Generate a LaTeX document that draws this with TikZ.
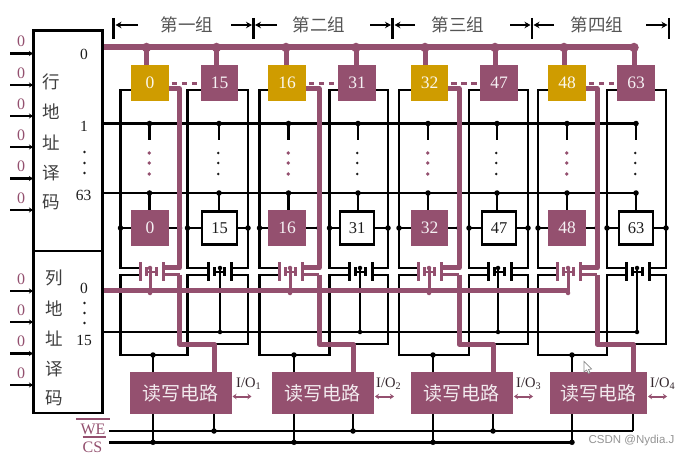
\documentclass[tikz,border=0pt]{standalone}
\usepackage{fontspec}
\setmainfont{Liberation Serif}
\newfontfamily\cjk{Noto Sans CJK SC}
\newfontfamily\wm{Liberation Sans}
\usetikzlibrary{arrows.meta,backgrounds}
\definecolor{mag}{HTML}{94506F}
\definecolor{gold}{HTML}{CF9C00}
\definecolor{ink}{HTML}{1C1C1C}
\pgfdeclarelayer{wires}
\pgfdeclarelayer{magwires}
\pgfsetlayers{wires,magwires,main}
\tikzset{
  wire/.style={draw=black,line width=2.4pt,line join=miter},
  mwire/.style={draw=mag,line width=5pt,line join=round},
  mwirethin/.style={draw=mag,line width=3pt,line join=round},
  jdot/.style={circle,fill=black,inner sep=0,minimum size=5.5pt},
  mdot/.style={circle,fill=mag,inner sep=0,minimum size=9.5pt},
  smdot/.style={circle,fill=mag,inner sep=0,minimum size=4.5pt},
  cellbase/.style={rectangle,inner sep=0,minimum width=37.5pt,minimum height=36pt,font=\fontsize{17.5}{17.5}\selectfont},
  cellmag/.style={cellbase,fill=mag,text=white!92!mag},
  cellgold/.style={cellbase,fill=gold,text=white!92!gold},
  cellwhite/.style={cellbase,draw=black,fill=white,line width=2.4pt,minimum width=34.5pt,minimum height=33pt,text=ink,font=\fontsize{16.5}{16.5}\selectfont},
  plateb/.style={rectangle,fill=black,inner sep=0,minimum width=3pt,minimum height=19pt},
  platem/.style={rectangle,fill=mag,inner sep=0,minimum width=3pt,minimum height=19pt},
  rw/.style={rectangle,fill=mag,inner sep=0,minimum height=42.5pt,text=white!88!mag,font=\cjk\fontsize{19}{19}\selectfont},
  dec/.style={rectangle,draw=black,line width=2.6pt,inner sep=0},
  decl/.style={inner sep=0,text=ink!85,font=\cjk\fontsize{17.5}{17.5}\selectfont},
  num/.style={inner sep=0,text=ink,font=\fontsize{15.5}{15.5}\selectfont},
  zero/.style={inner sep=0,text=mag,font=\fontsize{16}{16}\selectfont},
  grp/.style={inner sep=0,text=ink!75,font=\cjk\fontsize{17.5}{17.5}\selectfont},
  iot/.style={inner sep=0,text=ink!80!mag,font=\fontsize{14.5}{14.5}\selectfont},
  inarrow/.style={draw=black,line width=2.2pt,-{Stealth[length=4pt,width=5pt]}},
  brk/.style={draw=black,line width=2.2pt,-{Stealth[length=6pt,width=6.5pt]}},
  barline/.style={draw=black,line width=2.8pt},
  ioarrow/.style={draw=mag,line width=2pt,{Stealth[length=4pt,width=5.5pt]}-{Stealth[length=4pt,width=5.5pt]}},
  dots/.style={draw=mag,line width=2.4pt,dash pattern=on 5.5pt off 4.5pt}
}
\begin{document}
\begin{tikzpicture}[x=1pt,y=-1pt]
\useasboundingbox (0,0) rectangle (691,457);
\begin{pgfonlayer}{wires}
\fill[white] (0,0) rectangle (691,457);
\end{pgfonlayer}

% decoders
\node[dec,minimum width=69pt,minimum height=220.5pt] (rowdec) at (68,140.7) {};
\node[dec,minimum width=69pt,minimum height=162pt] (coldec) at (68,332) {};
\foreach \t/\y in {行/82,地/112,址/143,译/173,码/202}{
  \node[decl] (rd\y) at (51,\y) {\t};
}
\foreach \t/\y in {列/278,地/309,址/339,译/369,码/398}{
  \node[decl] (cd\y) at (54.5,\y) {\t};
}
\node[num] (r0) at (84,54) {0};
\node[num] (r1) at (84,126) {1};
\node[num] (r63) at (83.5,195) {63};
\node[num] (c0) at (84,288) {0};
\node[num] (c15) at (84,340) {15};
\foreach \y in {152,163,173}{\fill[ink] (84.5,\y) circle (1.4pt);}
\foreach \y in {303,313,323}{\fill[ink] (84.5,\y) circle (1.4pt);}

% address inputs
\foreach \y [count=\n] in {53.5,85,116,147,178.5,210,291,322,353.5,385}{
  \coordinate (inS\n) at (10,\y);
  \coordinate (inE\n) at (33,\y);
  \draw[inarrow] (inS\n) -- (inE\n);
  \node[zero] (z\n) at (21,\y-12) {0};
}

% group brackets
\foreach \x/\i in {113.5/a,253.5/b,392.7/c,532/d,669/e}{
  \coordinate (brT\i) at (\x,18);
  \coordinate (brB\i) at (\x,39.5);
  \draw[barline] (brT\i) -- (brB\i);
}
\foreach \s/\e [count=\n] in {138/115.5,231/252,277/255,370/391,415/394.5,510/530.5,554/533.5,646/667.5}{
  \coordinate (arS\n) at (\s,25);
  \coordinate (arE\n) at (\e,25);
  \draw[brk] (arS\n) -- (arE\n);
}
\node[grp] (g1) at (187,25) {第一组};
\node[grp] (g2) at (319,25) {第二组};
\node[grp] (g3) at (458,25) {第三组};
\node[grp] (g4) at (597,25) {第四组};

% global lines
\coordinate (rowA) at (102.5,123.5);
\coordinate (rowAe) at (636,123.5);
\coordinate (rowB) at (102.5,193);
\coordinate (rowBe) at (636,193);
\coordinate (colK) at (102.5,332);
\coordinate (colKe) at (637,332);
\coordinate (busT) at (102.5,47.5);
\coordinate (busTe) at (634,47.5);
\coordinate (busC) at (102.5,290.5);
\coordinate (busCe) at (569,290.5);
\coordinate (we) at (109,431);
\coordinate (wee) at (633,431);
\coordinate (cs) at (109,442.3);
\coordinate (cse) at (572,442.3);
\begin{pgfonlayer}{wires}
  \draw[wire] (rowA) -- (rowAe);
  \draw[wire] (rowB) -- (rowBe);
  \draw[wire] (colK) -- (colKe);
  \draw[wire] (we) -- (wee);
  \draw[wire] (cs) -- (cse);
\end{pgfonlayer}
\begin{pgfonlayer}{magwires}
  \draw[mag,line width=6pt] (busT) -- (busTe);
  \draw[mag,line width=5pt] (busC) -- (busCe);
\end{pgfonlayer}

\foreach \g/\a/\b/\ax/\bx/\sa/\sb/\ma/\mb/\La/\M/\Lb/\Rb/\pa/\qa/\pb/\qb/\ga/\gb/\jd/\wx/\bl/\br/\ix in {
  1/0/15/150/219.5/146.5/216.5/149.5/219/120.5/179.5/187.5/248/140/163/208/231/150/220/153/214/129.5/231.5/236,
  2/16/31/287/357/286/356/288.5/358/259.5/319/329.5/388/279/302/349/372/290/360/294/353/271.5/374/376,
  3/32/47/429.5/499/425/495/428/497/399/459/469/528/418/441/488/511/429/498/433/493/410.7/513/516,
  4/48/63/567/636/564/634/567/636/538/597/607/666/557/580/626/649/568/637/572/633/550/647/650}{
  % cells
  \node[cellgold] (tA\g) at (\ax,82.7) {\a};
  \node[cellmag]  (tB\g) at (\bx,82.7) {\b};
  \node[cellmag]  (lA\g) at (\ax,228) {\a};
  \node[cellwhite] (lB\g) at (\bx,228) {\b};
  % transistors
  \node[platem] (pA\g) at (\pa,272) {};
  \node[platem] (qA\g) at (\qa,272) {};
  \node[plateb] (pB\g) at (\pb,272) {};
  \node[plateb] (qB\g) at (\qb,272) {};
  % read/write
  \pgfmathsetmacro{\bw}{\br-\bl}
  \pgfmathsetmacro{\bc}{(\br+\bl)/2}
  \node[rw,minimum width=\bw pt] (rw\g) at (\bc,393.2) {读写电路};
  \node[iot,anchor=west] (io\g) at (\ix,384) {I/O\textsubscript{\g}};
  \pgfmathsetmacro{\ias}{\br+1}
  \pgfmathsetmacro{\iae}{\br+20}
  \coordinate (ioS\g) at (\ias,396.5);
  \coordinate (ioE\g) at (\iae,396.5);
  \draw[ioarrow] (ioS\g) -- (ioE\g);
  % named junctions
  \coordinate (jTa\g) at (\sa,47.5);
  \coordinate (jTb\g) at (\sb,47.5);
  \coordinate (cTa\g) at (\sa,65);
  \coordinate (cTb\g) at (\sb,65);
  \coordinate (n1a\g) at (\ma,123.5);
  \coordinate (n1b\g) at (\mb,123.5);
  \coordinate (s1a\g) at (\ma,140);
  \coordinate (s1b\g) at (\mb,140);
  \coordinate (n2a\g) at (\ma,193);
  \coordinate (n2b\g) at (\mb,193);
  \coordinate (s2a\g) at (\ma,210);
  \coordinate (s2b\g) at (\mb,212);
  \coordinate (LaT\g) at (\La,90);
  \coordinate (LbT\g) at (\Lb,90);
  \coordinate (RbT\g) at (\Rb,90);
  \coordinate (MT\g) at (\M,88.5);
  \coordinate (pAu\g) at (\pa,268);
  \coordinate (pAd\g) at (\pa,275);
  \coordinate (qAu\g) at (\qa,268);
  \coordinate (qAd\g) at (\qa,275);
  \coordinate (pBu\g) at (\pb,268);
  \coordinate (pBd\g) at (\pb,275);
  \coordinate (qBu\g) at (\qb,268);
  \coordinate (qBd\g) at (\qb,275);
  \coordinate (gAt\g) at (\ga,268);
  \coordinate (gAb\g) at (\ga,293);
  \coordinate (gBt\g) at (\gb,268);
  \coordinate (gBb\g) at (\gb,332);
  \coordinate (Lj\g) at (\jd,355);
  \coordinate (Jr\g) at (\jd,372);
  \coordinate (Wj\g) at (\wx,344);
  \coordinate (Wr\g) at (\wx,372);
  \coordinate (Jb\g) at (\jd,414);
  \coordinate (Jc\g) at (\jd,442.3);
  \coordinate (Wb\g) at (\wx,414);
  \coordinate (Wc\g) at (\wx,431);
  \begin{pgfonlayer}{wires}
    % stems from word lines to cells
    \draw[wire] (n1a\g) -- (s1a\g);
    \draw[wire] (n1b\g) -- (s1b\g);
    \draw[wire] (n2a\g) -- (s2a\g);
    \draw[wire] (n2b\g) -- (s2b\g);
    \node[jdot] (d1a\g) at (n1a\g) {};
    \node[jdot] (d1b\g) at (n1b\g) {};
    \node[jdot] (d2a\g) at (n2a\g) {};
    \node[jdot] (d2b\g) at (n2b\g) {};
    % bit lines
    \draw[wire] (tA\g.west |- LaT\g) -- (LaT\g) -- (pAu\g -| LaT\g) -- (pAu\g);
    \draw[wire] (tB\g.west |- LbT\g) -- (LbT\g) -- (pBu\g -| LbT\g) -- (pBu\g);
    \draw[wire] (tB\g.east |- RbT\g) -- (RbT\g) -- (qBu\g -| RbT\g) -- (qBu\g);
    % cross links through lower cells
    \draw[wire] (LaT\g |- lA\g) -- (lA\g);
    \draw[wire] (lA\g) -- (MT\g |- lA\g);
    \draw[wire] (LbT\g |- lB\g) -- (RbT\g |- lB\g);
    \node[jdot] (x1\g) at (LaT\g |- lA\g) {};
    \node[jdot] (x2\g) at (MT\g |- lA\g) {};
    \node[jdot] (x3\g) at (LbT\g |- lB\g) {};
    \node[jdot] (x4\g) at (RbT\g |- lB\g) {};
    % lower leads
    \draw[wire] (pAd\g) -- (pAd\g -| LaT\g) -- (Lj\g -| LaT\g) -- (Lj\g -| LbT\g) -- (pBd\g -| LbT\g) -- (pBd\g);
    \draw[wire] (qBd\g) -- (qBd\g -| RbT\g) -- (Wj\g -| RbT\g) -- (Wj\g);
    \node[jdot] (dL\g) at (Lj\g) {};
    \draw[wire] (Lj\g) -- (Jr\g);
    % transistor B inner parts and gate
    \draw[wire] (gBt\g) -- (gBb\g);
    \node[jdot,minimum size=4.5pt] (gBj\g) at (gBb\g) {};
    \node[jdot,minimum size=4.5pt] (gBk\g) at (gBt\g) {};
    \draw[black,line width=3pt] ([xshift=6.5pt]pB\g.center) ++(0,-4.5) -- ++(0,9);
    \draw[black,line width=3pt] ([xshift=-6.5pt]qB\g.center) ++(0,-4.5) -- ++(0,9);
    \draw[black,line width=2.5pt] ([xshift=6.5pt]pB\g.center) -- ([xshift=-6.5pt]qB\g.center);
    % below the boxes
    \draw[wire] (Jb\g) -- (Jc\g);
    \draw[wire] (Wb\g) -- (Wc\g);
    \node[jdot] (jc\g) at (Jc\g) {};
    \ifnum\g<4 \node[jdot] (jw\g) at (Wc\g) {}; \fi
  \end{pgfonlayer}
  \begin{pgfonlayer}{magwires}
    % word select stubs: magenta with a dark edge on the right
    \draw[mag,line width=5pt] (jTa\g) -- (cTa\g);
    \draw[mag,line width=5pt] (jTb\g) -- (cTb\g);
    \draw[black!85!mag,line width=1.6pt] ([xshift=3pt,yshift=-8pt]cTa\g) -- ([xshift=3pt]cTa\g);
    \draw[black!85!mag,line width=1.6pt] ([xshift=3pt,yshift=-8pt]cTb\g) -- ([xshift=3pt]cTb\g);
    \node[mdot] (dTa\g) at (jTa\g) {};
    \node[mdot] (dTb\g) at (jTb\g) {};
    % selected bit path
    \draw[mwire] (tA\g.east |- MT\g) -- (MT\g) -- (qAu\g -| MT\g) -- (qAu\g);
    \draw[mwirethin] (qAd\g) -- (qAd\g -| MT\g);
    \draw[mwire] (qAd\g -| MT\g) -- (Wj\g -| MT\g) -- (Wj\g) -- (Wr\g);
    % transistor A inner parts and gate
    \draw[mwirethin] (gAt\g) -- (gAb\g);
    \node[smdot] (gAj\g) at (gAb\g) {};
    \node[smdot] (gAk\g) at (gAt\g) {};
    \draw[mag,line width=3pt] ([xshift=6.5pt]pA\g.center) ++(0,-4.5) -- ++(0,9);
    \draw[mag,line width=3pt] ([xshift=-6.5pt]qA\g.center) ++(0,-4.5) -- ++(0,9);
    \draw[mag,line width=2.5pt] ([xshift=6.5pt]pA\g.center) -- ([xshift=-6.5pt]qA\g.center);
  \end{pgfonlayer}
  % dashes between top cells
  \draw[dots] ([xshift=3pt,yshift=-1pt]tA\g.east) -- ([xshift=-2pt,yshift=-1pt]tB\g.west);
  % column dots
  \foreach \y in {153,163,174}{
    \fill[mag] (\ma-0.3,\y) circle (1.9pt);
    \fill[ink] (\mb-0.7,\y) circle (1.4pt);
  }
}

% write enable / chip select
\node[inner sep=0,text=mag,font=\fontsize{16}{16}\selectfont] (wel) at (93,429) {WE};
\node[inner sep=0,text=mag,font=\fontsize{16}{16}\selectfont] (csl) at (92.5,447) {CS};
\draw[mag,line width=2pt] (wel.north west) ++(-4,-4.5) -- ++(34,0);
\draw[mag,line width=2pt] (csl.north west) ++(0,-4) -- ++(23,0);

% watermark and pointer
\node[inner sep=0,text=black!42,font=\wm\fontsize{11.5}{11.5}\selectfont] (mark) at (631.5,440.5) {CSDN @Nydia.J};
\draw[black!45,fill=white,line width=.7pt] (584,361.5) -- (584,372) -- (586.5,370) -- (588.5,373.5) -- (590,372.5) -- (588.5,369.5) -- (591.5,369) -- cycle;
\end{tikzpicture}
\end{document}
